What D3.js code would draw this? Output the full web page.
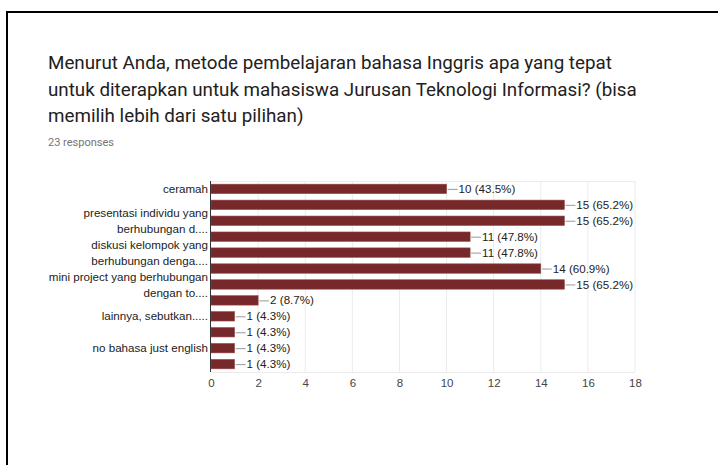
<!DOCTYPE html>
<html>
<head>
<meta charset="utf-8">
<script src="https://cdn.jsdelivr.net/npm/d3@7"></script>
<style>
  html, body { margin: 0; padding: 0; background: #fff; }
  svg { display: block; }
  .title { font-family: Roboto, sans-serif; font-size: 18.8px; fill: #212121; }
  .sub { font-family: Roboto, sans-serif; font-size: 11px; fill: #757575; }
  .cat { font-family: 'Liberation Sans', Arial, sans-serif; font-size: 11.6px; fill: #222; }
  .val { font-family: 'Liberation Sans', Arial, sans-serif; font-size: 11.6px; fill: #222; }
  .tick text { font-family: 'Liberation Sans', Arial, sans-serif; font-size: 11.5px; fill: #444; }
</style>
</head>
<body>
<div id="main"></div>
<script>
const titleLines = [
  'Menurut Anda, metode pembelajaran bahasa Inggris apa yang tepat',
  'untuk diterapkan untuk mahasiswa Jurusan Teknologi Informasi? (bisa',
  'memilih lebih dari satu pilihan)'
]
const responses = '23 responses'
const total = 23

// every other label is hidden in the original chart
const categories = [
  ['ceramah'],
  [],
  ['presentasi individu yang', 'berhubungan d....'],
  [],
  ['diskusi kelompok yang', 'berhubungan denga....'],
  [],
  ['mini project yang berhubungan', 'dengan to....'],
  [],
  ['lainnya, sebutkan.....'],
  [],
  ['no bahasa just english'],
  []
]
const values = [10, 15, 15, 11, 11, 14, 15, 2, 1, 1, 1, 1]
const xTicks = [0, 2, 4, 6, 8, 10, 12, 14, 16, 18]

const width = 718
const height = 465
const margin = { left: 211, right: 83, top: 181, bottom: 93 }

const svg = d3.select('#main')
  .append('svg')
  .attr('width', width)
  .attr('height', height)

// frame of the screenshot
svg.append('path')
  .attr('d', `M7,${height} V12 H${width}`)
  .attr('fill', 'none')
  .attr('stroke', '#000')
  .attr('stroke-width', 2)

svg.selectAll('text.title')
  .data(titleLines)
  .enter()
  .append('text')
  .attr('class', 'title')
  .attr('x', 48)
  .attr('y', (d, i) => 69 + i * 26.5)
  .text((d) => d)

svg.append('text')
  .attr('class', 'sub')
  .attr('x', 48)
  .attr('y', 146)
  .text(responses)

const x = d3.scaleLinear()
  .domain([0, 18])
  .range([margin.left, width - margin.right])

const y = d3.scaleBand()
  .domain(d3.range(values.length))
  .range([margin.top, height - margin.bottom])
  .paddingInner(0.41)
  .paddingOuter(0.2)

// gridlines
svg.append('g')
  .selectAll('line')
  .data(xTicks.slice(1))
  .enter()
  .append('line')
  .attr('x1', (d) => x(d))
  .attr('x2', (d) => x(d))
  .attr('y1', margin.top)
  .attr('y2', height - margin.bottom)
  .attr('stroke', '#ebebeb')

svg.append('g')
  .selectAll('line')
  .data([margin.top, height - margin.bottom])
  .enter()
  .append('line')
  .attr('x1', margin.left)
  .attr('x2', x(18))
  .attr('y1', (d) => d + 0.5)
  .attr('y2', (d) => d + 0.5)
  .attr('stroke', '#ebebeb')

// x axis labels
const xAxis = svg.append('g')
  .attr('transform', `translate(0, ${height - margin.bottom})`)
  .call(d3.axisBottom(x).tickValues(xTicks).tickSize(0).tickPadding(7))
xAxis.select('.domain').remove()

// bars
svg.append('g')
  .selectAll('rect')
  .data(values)
  .enter()
  .append('rect')
  .attr('x', x(0))
  .attr('y', (d, i) => y(i))
  .attr('width', (d) => x(d) - x(0))
  .attr('height', y.bandwidth())
  .attr('fill', '#772828')
  .attr('stroke', '#8e4848')
  .attr('stroke-width', 0.6)

// leader lines and value labels
const vals = svg.append('g')
  .selectAll('g')
  .data(values)
  .enter()
  .append('g')
  .attr('transform', (d, i) => `translate(${x(d)}, ${y(i) + y.bandwidth() / 2})`)

vals.append('line')
  .attr('x1', 1)
  .attr('x2', 11)
  .attr('y1', 0.5)
  .attr('y2', 0.5)
  .attr('stroke', '#999')

vals.append('text')
  .attr('class', 'val')
  .attr('x', 12)
  .attr('dy', '0.35em')
  .text((d) => `${d} (${(d / total * 100).toFixed(1)}%)`)

// category labels
const cats = svg.append('g')
  .selectAll('text')
  .data(categories)
  .enter()
  .append('text')
  .attr('class', 'cat')
  .attr('text-anchor', 'end')
  .attr('x', margin.left - 3)
  .attr('y', (d, i) => y(i) + y.bandwidth() / 2)

cats.selectAll('tspan')
  .data((d) => d.map((t, j) => ({ t, j, n: d.length })))
  .enter()
  .append('tspan')
  .attr('x', margin.left - 3)
  .attr('dy', (d) => d.j === 0 ? `${0.35 - (d.n - 1) * 0.69}em` : '1.38em')
  .text((d) => d.t)

// left axis line
svg.append('line')
  .attr('x1', margin.left - 0.5)
  .attr('x2', margin.left - 0.5)
  .attr('y1', margin.top)
  .attr('y2', height - margin.bottom)
  .attr('stroke', '#333')
</script>
</body>
</html>
